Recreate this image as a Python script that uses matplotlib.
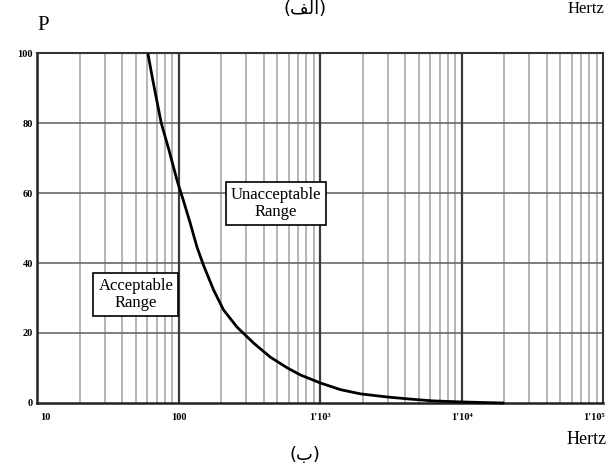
import matplotlib
matplotlib.use("Agg")
from matplotlib import pyplot as plt
from matplotlib.ticker import FixedLocator, NullFormatter

# curve
freq = [61, 66, 75.5, 86, 97.5, 108, 121, 135, 150, 177, 208, 259, 340, 446,
        589, 728, 1010, 1400, 1940, 3010, 4390, 6300, 10000, 19600]
p_val = [99.5, 92, 80, 72, 63.7, 58, 51.4, 44.6, 39.4, 32.3, 26.6, 21.7, 17.1,
         13.1, 10, 8.0, 5.7, 3.8, 2.6, 1.7, 1.1, 0.6, 0.3, 0]

x_ticks = [10, 100, 1e3, 1e4, 1e5]
x_labels = ["10", "100", "1'10³", "1'10⁴", "1'10⁵"]
y_ticks = [0, 20, 40, 60, 80, 100]
y_labels = ["0", "20", "40", "60", "80", "100"]

serif = ["Liberation Serif", "DejaVu Serif"]

fig = plt.figure(figsize=(6.13, 4.66), dpi=100)
ax = fig.add_axes([37 / 613, 1 - 403 / 466, 566 / 613, 350 / 466])

ax.set_xscale("log")
ax.set_xlim(10, 1e5)
ax.set_ylim(0, 100)

# grid lines
minor = [m * 10 ** d for d in range(1, 5) for m in range(2, 10)]
for x in minor:
    ax.axvline(x, color="#a8a8a8", lw=1.2, zorder=1)
for x in [100, 1e3, 1e4]:
    ax.axvline(x, color="#3a3a3a", lw=1.6, zorder=1.5)
for y in [20, 40, 60, 80]:
    ax.axhline(y, color="#6a6a6a", lw=1.2, zorder=1.2)

ax.plot(freq, p_val, color="black", lw=2.0, zorder=3, clip_on=False,
        solid_joinstyle="round")

ax.xaxis.set_major_locator(FixedLocator(x_ticks))
ax.xaxis.set_minor_formatter(NullFormatter())
ax.set_xticklabels([])
ax.set_yticks(y_ticks)
ax.set_yticklabels(y_labels, fontsize=7.5, fontweight="bold", family=serif)
ax.tick_params(which="both", length=0, pad=3)

# x labels drawn as text so the end ones can sit inside the frame
x_off = [1.14, 1.0, 1.0, 1.0, 0.87]
for xv, lab, k in zip(x_ticks, x_labels, x_off):
    ax.text(xv * k, -3.0, lab, ha="center", va="top", fontsize=7.5,
            fontweight="bold", family=serif)

for side in ["left", "bottom"]:
    ax.spines[side].set_linewidth(1.8)
    ax.spines[side].set_color("#222222")
for side in ["top", "right"]:
    ax.spines[side].set_linewidth(1.5)
    ax.spines[side].set_color("#333333")

box = dict(boxstyle="square,pad=0.3", fc="white", ec="black", lw=1.2)
ax.text(50, 31, "Acceptable\nRange", ha="center", va="center", fontsize=12,
        family=serif, bbox=box, zorder=4, linespacing=1.15)
ax.text(490, 57, "Unacceptable\nRange", ha="center", va="center", fontsize=12,
        family=serif, bbox=box, zorder=4, linespacing=1.15)

fig.text(43 / 613, 1 - 25 / 466, "P", ha="center", va="center", fontsize=15,
         family=serif)
fig.text(305 / 613, 1 - 9 / 466, "(\uFED2\uFEDF\uFE8D)", ha="center", va="center",
         fontsize=13, family=["DejaVu Sans"])
fig.text(568 / 613, 1 - 9 / 466, "Hertz", ha="left", va="center", fontsize=12,
         family=serif)
fig.text(567 / 613, 1 - 440 / 466, "Hertz", ha="left", va="center", fontsize=13,
         family=serif)
fig.text(305 / 613, 1 - 455 / 466, "(ب)", ha="center", va="center",
         fontsize=13, family=["DejaVu Sans"])

fig.savefig("out.png", dpi=100)
